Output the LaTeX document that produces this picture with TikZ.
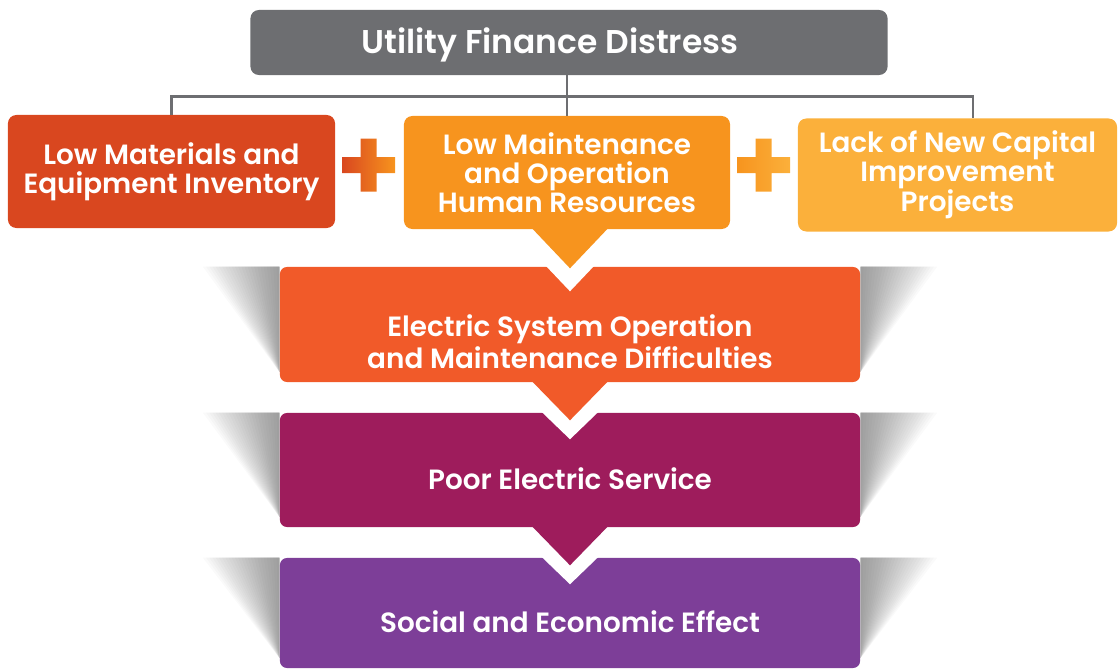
\documentclass[tikz,border=0pt]{standalone}
\usepackage{fontspec}
\setmainfont{Poppins}[BoldFont={Poppins SemiBold}]
\usetikzlibrary{calc,positioning,backgrounds}

\definecolor{ufdgray}{HTML}{6D6E71}
\definecolor{lmered}{HTML}{D9471F}
\definecolor{lmorange}{HTML}{F7941E}
\definecolor{lmgold}{HTML}{FBB03B}
\definecolor{esomred}{HTML}{F15A29}
\definecolor{pesmagenta}{HTML}{9E1C5C}
\definecolor{seepurple}{HTML}{7D3E98}

\tikzset{
  topbox/.style={fill=ufdgray, rounded corners=6pt, inner sep=0pt,
    minimum width=15.925cm, minimum height=1.625cm},
  toptxt/.style={text=white, font=\bfseries\fontsize{23.4}{26}\selectfont},
  causebox/.style={rounded corners=6pt, text=white, align=center, inner sep=0pt,
    font=\bfseries\fontsize{19.8}{20.5}\selectfont, minimum height=2.825cm},
  flowbox/.style={rounded corners=5pt, minimum width=14.5cm, inner sep=0pt},
  flowtxt/.style={text=white, align=center, font=\bfseries\fontsize{19.8}{22.5}\selectfont},
  conn/.style={draw=ufdgray, line width=2pt},
  shadowtone/.style={fill=black, fill opacity=0.018}
}

\begin{document}
\begin{tikzpicture}[x=0.025cm, y=-0.025cm]
    \useasboundingbox (0,0) rectangle (1119,671);

% Top box
    \node[topbox] (ufd) at (569,42.5) {};
    \node[toptxt] (ufdtxt) at (550,45) {Utility Finance Distress};

% Cause boxes
    \node[causebox, fill=lmered, minimum width=8.175cm] (lmei) at (171.5,171.5) {Low Materials and\\Equipment Inventory};
    \node[causebox, fill=lmorange, minimum width=8.15cm] (lmohr) at (567,172.5) {Low Maintenance\\and Operation\\Human Resources};
    \node[causebox, fill=lmgold, minimum width=7.975cm] (lncip) at (957.5,175) {Lack of New Capital\\Improvement\\Projects};

%Tree lines
    \draw[conn] (lmohr.north) -- (lmohr.north |- ufd.south);
    \draw[conn] (lmei.north) |- ($(lmohr.north)+(0,-19)$) -| ($(lncip.north)+(15.5,0)$);

% Plus signs
    \coordinate (plusA) at (368.5,165);
    \coordinate (plusB) at (763.5,165);
    \shade[left color=lmered, right color=lmorange] ($(plusA)+(-26.5,-8)$) -- ++(18.5,0) -- ++(0,-18.5) -- ++(16,0) -- ++(0,18.5) -- ++(18.5,0)
        -- ++(0,16) -- ++(-18.5,0) -- ++(0,18.5) -- ++(-16,0) -- ++(0,-18.5) -- ++(-18.5,0) -- cycle;
    \shade[left color=lmorange, right color=lmgold] ($(plusB)+(-26.5,-8)$) -- ++(18.5,0) -- ++(0,-18.5) -- ++(16,0) -- ++(0,18.5) -- ++(18.5,0)
        -- ++(0,16) -- ++(-18.5,0) -- ++(0,18.5) -- ++(-16,0) -- ++(0,-18.5) -- ++(-18.5,0) -- cycle;

% Flow boxes
    \node[flowbox, fill=esomred, minimum height=2.875cm] (esom) at (570,324.5) {};
    \node[flowbox, fill=pesmagenta, minimum height=2.85cm] (pes) at (570,470) {};
    \node[flowbox, fill=seepurple, minimum height=2.75cm] (see) at (570,613) {};

% Soft shadows behind flow boxes
    \begin{scope}[on background layer]
    \foreach \b in {esom,pes,see} {
      \foreach \k in {1,...,24} {
        \fill[shadowtone] (\b.north west) -- ++(-3.2*\k,0) -- ($(\b.south west)+(0,-10)$) -- cycle;
        \fill[shadowtone] (\b.north east) -- ++(3.2*\k,0) -- ($(\b.south east)+(0,-10)$) -- cycle;
      }
    }
    \end{scope}

% Pointers
    \fill[white] ($(esom.north |- lmohr.south)+(-57,2)$) -- ++(114,0) -- ($(esom.north |- lmohr.south)+(0,62)$) -- cycle;
    \fill[lmorange] ($(esom.north |- lmohr.south)+(-38,-1)$) -- ++(76,0) -- ($(esom.north |- lmohr.south)+(0,39)$) -- cycle;

    \fill[white] ($(pes.north |- esom.south)+(-57,2)$) -- ++(114,0) -- ($(pes.north |- esom.south)+(0,57)$) -- cycle;
    \fill[esomred] ($(pes.north |- esom.south)+(-38,-1)$) -- ++(76,0) -- ($(pes.north |- esom.south)+(0,38)$) -- cycle;

    \fill[white] ($(see.north |- pes.south)+(-57,2)$) -- ++(114,0) -- ($(see.north |- pes.south)+(0,57)$) -- cycle;
    \fill[pesmagenta] ($(see.north |- pes.south)+(-38,-1)$) -- ++(76,0) -- ($(see.north |- pes.south)+(0,38)$) -- cycle;

% Flow texts
    \node[flowtxt] (esomtxt) at (570,342) {Electric System Operation\\and Maintenance Difficulties};
    \node[flowtxt] (pestxt) at (570,479) {Poor Electric Service};
    \node[flowtxt] (seetxt) at (570,622) {Social and Economic Effect};

\end{tikzpicture}
\end{document}
